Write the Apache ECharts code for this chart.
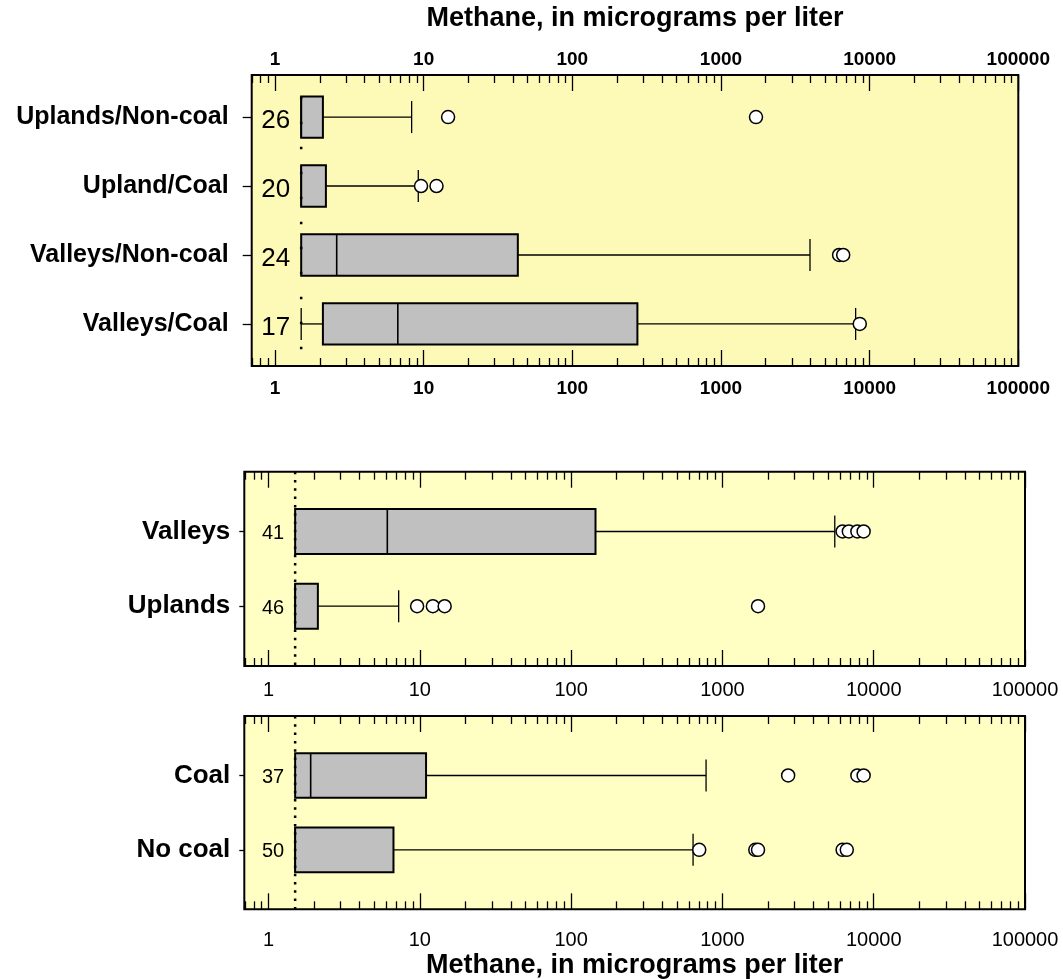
<!DOCTYPE html>
<html>
<head>
<meta charset="utf-8">
<script src="https://cdn.jsdelivr.net/npm/echarts@6/dist/echarts.min.js"></script>
<style>
  html, body { margin: 0; padding: 0; background: #ffffff; }
  #chart { width: 1063px; height: 979px; }
</style>
</head>
<body>
<div id="chart"></div>
<script>
// Methane in groundwater (micrograms per liter), grouped by landscape position and coal

const reportingLevel = 1.5;

const groupCategories = ['Uplands/Non-coal', 'Upland/Coal', 'Valleys/Non-coal', 'Valleys/Coal'];
const groupCounts = [26, 20, 24, 17];
// box statistics: [lower whisker, 25th pct, median, 75th pct, upper whisker]
const groupBoxes = [
  [1.5, 1.5, 1.5, 2.1, 8.3],
  [1.5, 1.5, 1.5, 2.2, 9.2],
  [1.5, 1.5, 2.6, 43, 3970],
  [1.5, 2.1, 6.7, 274, 8050]
];
const groupOutliers = [
  [14.6, 1720],
  [9.6, 12.2],
  [6230, 6640],
  [8580]
];

const landCategories = ['Valleys', 'Uplands'];
const landCounts = [41, 46];
const landBoxes = [
  [1.5, 1.5, 6.1, 145, 5530],
  [1.5, 1.5, 1.5, 2.12, 7.25]
];
const landOutliers = [
  [6230, 6850, 7800, 8580],
  [9.6, 12.2, 14.6, 1720]
];

const coalCategories = ['Coal', 'No coal'];
const coalCounts = [37, 50];
const coalBoxes = [
  [1.5, 1.5, 1.9, 11, 780],
  [1.5, 1.5, 1.5, 6.7, 640]
];
const coalOutliers = [
  [2720, 7800, 8580],
  [703, 1650, 1720, 6230, 6640]
];

const decadeLabels = [1, 10, 100, 1000, 10000, 100000];

// ---- helpers -------------------------------------------------------------
const lg = Math.log10;
const FONT = "'Liberation Sans', Arial, Helvetica, sans-serif";

const majorTicks = decadeLabels.map(lg);
const minorTicks = [];
[0.1].concat(decadeLabels).forEach(function (d) {
  for (let m = 2; m <= 9; m++) minorTicks.push(lg(m * d));
});

function makeXAxes(gridIndex, floor, cfg) {
  const base = {
    type: 'value', gridIndex: gridIndex, min: lg(floor), max: 5,
    axisLine: { show: false, onZero: false }, splitLine: { show: false }
  };
  const labelStyle = {
    color: '#000', fontFamily: FONT, fontSize: cfg.labelSize,
    fontWeight: cfg.labelWeight,
    formatter: function (v) { return String(Math.round(Math.pow(10, v))); }
  };
  const axes = [];
  ['bottom', 'top'].forEach(function (pos) {
    const showLabel = pos === 'bottom' ? cfg.bottomLabels : cfg.topLabels;
    axes.push(Object.assign({}, base, {
      position: pos,
      name: pos === 'bottom' ? cfg.bottomName : cfg.topName,
      nameLocation: 'middle',
      nameGap: pos === 'bottom' ? cfg.bottomNameGap : cfg.topNameGap,
      nameTextStyle: { color: '#000', fontFamily: FONT, fontSize: 27, fontWeight: 'bold' },
      axisTick: { inside: true, length: 16, customValues: majorTicks, lineStyle: { color: '#000', width: 1.3 } },
      axisLabel: Object.assign({
        show: showLabel, customValues: majorTicks,
        margin: pos === 'bottom' ? cfg.bottomMargin : cfg.topMargin
      }, labelStyle)
    }));
    axes.push(Object.assign({}, base, {
      position: pos,
      axisTick: { inside: true, length: 8, customValues: minorTicks, lineStyle: { color: '#000', width: 1.3 } },
      axisLabel: { show: false }
    }));
  });
  return axes;
}

function makeYAxis(gridIndex, categories, min, max, cfg) {
  const rows = categories.map(function (c, i) { return i + 1; });
  return {
    type: 'value', gridIndex: gridIndex, inverse: true, min: min, max: max,
    position: 'left',
    axisLine: { show: false, onZero: false }, splitLine: { show: false },
    axisTick: { show: true, inside: false, length: cfg.tickLength, customValues: rows,
      lineStyle: { color: '#000', width: 1.3 } },
    axisLabel: {
      customValues: rows, margin: cfg.labelMargin,
      color: '#000', fontFamily: FONT, fontSize: cfg.labelSize, fontWeight: 'bold',
      formatter: function (v) { return categories[Math.round(v) - 1]; }
    }
  };
}

// one box: whiskers with caps, grey box, median bar and the sample count
function makeBoxRenderer(countFont, countDy) {
  return function (params, api) {
    const row = api.value(0);
    const band = api.size([0, 1])[1];
    const half = band * 0.3;
    const capHalf = 16;
    const lo = api.coord([api.value(1), row]);
    const yc = lo[1];
    const xLo = lo[0];
    const xQ1 = api.coord([api.value(2), row])[0];
    const xMed = api.coord([api.value(3), row])[0];
    const xQ3 = api.coord([api.value(4), row])[0];
    const xHi = api.coord([api.value(5), row])[0];
    const xRl = api.coord([lg(reportingLevel), row])[0];
    const thin = { stroke: '#000', lineWidth: 1.3, fill: null };
    const children = [];
    if (xQ1 - xLo > 0.5) {
      children.push({ type: 'line', shape: { x1: xLo, y1: yc, x2: xQ1, y2: yc }, style: thin });
      children.push({ type: 'line', shape: { x1: xLo, y1: yc - capHalf, x2: xLo, y2: yc + capHalf }, style: thin });
    }
    children.push({ type: 'line', shape: { x1: xQ3, y1: yc, x2: xHi, y2: yc }, style: thin });
    children.push({ type: 'line', shape: { x1: xHi, y1: yc - capHalf, x2: xHi, y2: yc + capHalf }, style: thin });
    children.push({
      type: 'rect',
      shape: { x: xQ1, y: yc - half, width: xQ3 - xQ1, height: 2 * half },
      style: { fill: '#c0c0c0', stroke: '#000', lineWidth: 2 }
    });
    children.push({ type: 'line', shape: { x1: xMed, y1: yc - half, x2: xMed, y2: yc + half },
      style: { stroke: '#000', lineWidth: 1.6 } });
    children.push({
      type: 'text', x: xRl - 11, y: yc + countDy,
      style: { text: String(api.value(6)), fill: '#000', font: countFont, align: 'right', verticalAlign: 'middle' }
    });
    return { type: 'group', children: children };
  };
}

function makeDotRenderer(dash, offset) {
  return function (params, api) {
    const cs = params.coordSys;
    const x = api.coord([api.value(0), 1])[0];
    return {
      type: 'line',
      shape: { x1: x, y1: cs.y, x2: x, y2: cs.y + cs.height },
      style: { stroke: '#000', lineWidth: 2.5, lineDash: dash, lineDashOffset: offset }
    };
  };
}

function panelSeries(gridIndex, boxes, outliers, counts, cfg) {
  const xi = gridIndex * 4;
  const boxData = boxes.map(function (b, i) {
    return [i + 1].concat(b.map(lg), [counts[i]]);
  });
  const outlierData = [];
  outliers.forEach(function (list, i) {
    list.forEach(function (v) { outlierData.push([lg(v), i + 1]); });
  });
  return [
    {
      type: 'custom', xAxisIndex: xi, yAxisIndex: gridIndex,
      renderItem: makeBoxRenderer(cfg.countFont, cfg.countDy),
      encode: { x: [1, 2, 3, 4, 5], y: 0 }, data: boxData, z: 2, silent: true
    },
    {
      type: 'custom', xAxisIndex: xi, yAxisIndex: gridIndex,
      renderItem: makeDotRenderer(cfg.dash, cfg.dashOffset),
      encode: { x: 0, y: 1 }, data: [[lg(reportingLevel), 1]], z: 3, silent: true
    },
    {
      type: 'scatter', xAxisIndex: xi, yAxisIndex: gridIndex, data: outlierData,
      symbol: 'circle', symbolSize: 13, z: 4, silent: true,
      itemStyle: { color: '#ffffff', borderColor: '#000', borderWidth: 1.5, opacity: 1 }
    }
  ];
}

const gridStyle = function (bg) {
  return { show: true, backgroundColor: bg, borderColor: '#000', borderWidth: 2, containLabel: false, outerBoundsMode: 'none' };
};

const option = {
  animation: false,
  backgroundColor: '#ffffff',
  grid: [
    Object.assign({ left: 251.7, top: 75, width: 766.6, height: 291 }, gridStyle('#fdf9b7')),
    Object.assign({ left: 244.3, top: 471.7, width: 780.7, height: 194.3 }, gridStyle('#ffffc3')),
    Object.assign({ left: 244.3, top: 716, width: 780.7, height: 193.3 }, gridStyle('#ffffc3'))
  ],
  xAxis: [].concat(
    makeXAxes(0, 0.697, {
      labelSize: 19, labelWeight: 'bold', bottomLabels: true, topLabels: true,
      bottomMargin: 13, topMargin: 6, topName: 'Methane, in micrograms per liter', topNameGap: 43
    }),
    makeXAxes(1, 0.692, {
      labelSize: 20, labelWeight: 'normal', bottomLabels: true, topLabels: false,
      bottomMargin: 14, topMargin: 6
    }),
    makeXAxes(2, 0.692, {
      labelSize: 20, labelWeight: 'normal', bottomLabels: true, topLabels: false,
      bottomMargin: 21, topMargin: 6,
      bottomName: 'Methane, in micrograms per liter', bottomNameGap: 43
    })
  ),
  yAxis: [
    makeYAxis(0, groupCategories, 0.39, 4.61, { tickLength: 9, labelMargin: 23, labelSize: 25 }),
    makeYAxis(1, landCategories, 0.2, 2.8, { tickLength: 5, labelMargin: 14, labelSize: 26 }),
    makeYAxis(2, coalCategories, 0.2, 2.8, { tickLength: 5, labelMargin: 14, labelSize: 26 })
  ],
  series: [].concat(
    panelSeries(0, groupBoxes, groupOutliers, groupCounts,
      { dash: [2.5, 22.5], dashOffset: 3.3, countFont: "26px " + FONT, countDy: 4 }),
    panelSeries(1, landBoxes, landOutliers, landCounts,
      { dash: [2.5, 5.8], dashOffset: 0, countFont: "20px " + FONT, countDy: 2 }),
    panelSeries(2, coalBoxes, coalOutliers, coalCounts,
      { dash: [2.5, 5.8], dashOffset: 0, countFont: "20px " + FONT, countDy: 2 })
  )
};

const chart = echarts.init(document.getElementById('chart'), null, { renderer: 'canvas' });
chart.setOption(option);
</script>
</body>
</html>
